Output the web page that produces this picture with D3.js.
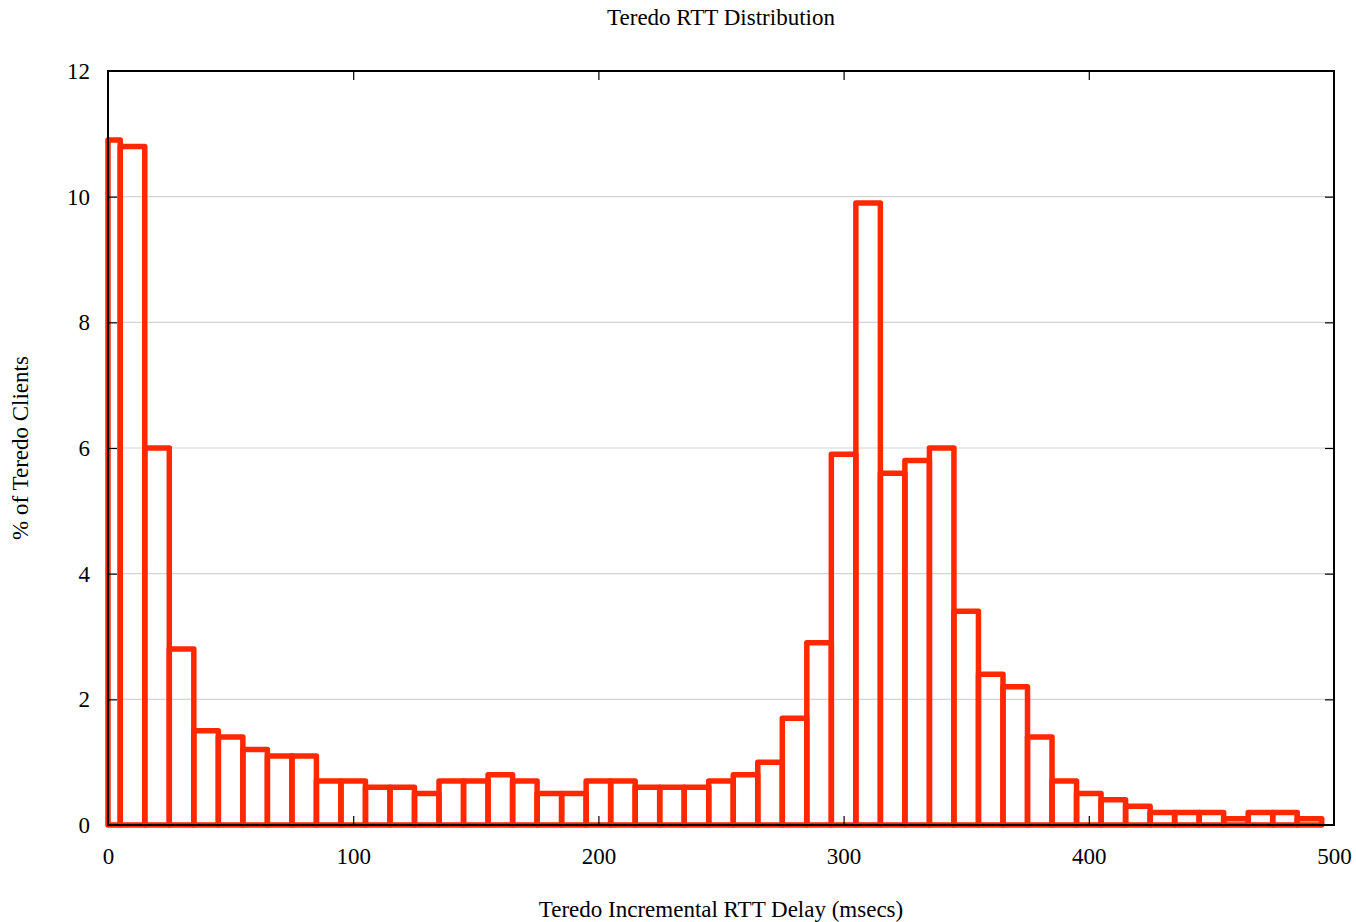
<!DOCTYPE html>
<html>
<head>
<meta charset="utf-8">
<script src="https://cdn.jsdelivr.net/npm/d3@7"></script>
<style>
  body { margin: 0; background: #fff; }
  text { font-family: "Liberation Serif", "DejaVu Serif", serif; fill: #000; }
</style>
</head>
<body>
<svg id="chart"></svg>
<script>
// bin centres (msecs), 10 ms wide
const bins = d3.range(0, 500, 10);
// % of Teredo clients per bin
const pct = [10.9, 10.8, 6.0, 2.8, 1.5, 1.4, 1.2, 1.1, 1.1, 0.7,
             0.7, 0.6, 0.6, 0.5, 0.7, 0.7, 0.8, 0.7, 0.5, 0.5,
             0.7, 0.7, 0.6, 0.6, 0.6, 0.7, 0.8, 1.0, 1.7, 2.9,
             5.9, 9.9, 5.6, 5.8, 6.0, 3.4, 2.4, 2.2, 1.4, 0.7,
             0.5, 0.4, 0.3, 0.2, 0.2, 0.2, 0.1, 0.2, 0.2, 0.1];
const xTicks = [0, 100, 200, 300, 400, 500];
const yTicks = [0, 2, 4, 6, 8, 10, 12];
const binWidth = 10;

var w = 1356, h = 922;
var margin = {left: 108, right: 22, top: 71, bottom: 97};
var svg = d3.select("#chart").attr("width", w).attr("height", h);

var x = d3.scaleLinear().domain([0, 500]).range([margin.left, w - margin.right]);
var y = d3.scaleLinear().domain([0, 12]).range([h - margin.bottom, margin.top]);

// grid lines
svg.append("g")
    .selectAll("line")
    .data(yTicks.filter(d => d > 0 && d < 12))
    .enter()
    .append("line")
    .attr("x1", x(0)).attr("x2", x(500))
    .attr("y1", d => y(d)).attr("y2", d => y(d))
    .style("stroke", "#d4d4d4")
    .style("stroke-width", 1.2);

// bars (outlined boxes), first box clipped at 0
svg.append("g")
    .selectAll("rect")
    .data(bins.map((b, i) => ({b: b, v: pct[i]})))
    .enter()
    .append("rect")
    .attr("x", d => x(Math.max(0, d.b - binWidth / 2)))
    .attr("width", d => x(d.b + binWidth / 2) - x(Math.max(0, d.b - binWidth / 2)))
    .attr("y", d => y(d.v))
    .attr("height", d => y(0) - y(d.v))
    .style("fill", "none")
    .style("stroke", "#ff2800")
    .style("stroke-width", 5.5)
    .style("stroke-linejoin", "round");

// axes with inward ticks
var axBottom = svg.append("g").attr("transform", "translate(0," + y(0) + ")")
    .call(d3.axisBottom(x).tickValues(xTicks).tickSizeInner(-9).tickSizeOuter(0).tickPadding(23));
var axTop = svg.append("g").attr("transform", "translate(0," + y(12) + ")")
    .call(d3.axisTop(x).tickValues(xTicks).tickSizeInner(-9).tickSizeOuter(0).tickFormat(""));
var axLeft = svg.append("g").attr("transform", "translate(" + x(0) + ",0)")
    .call(d3.axisLeft(y).tickValues(yTicks).tickSizeInner(-9).tickSizeOuter(0).tickPadding(18));
var axRight = svg.append("g").attr("transform", "translate(" + x(500) + ",0)")
    .call(d3.axisRight(y).tickValues(yTicks).tickSizeInner(-9).tickSizeOuter(0).tickFormat(""));

[axBottom, axTop, axLeft, axRight].forEach(function (g) {
    g.select(".domain").remove();
    g.selectAll(".tick line").style("stroke", "#000").style("stroke-width", 1.2);
    g.selectAll("text").style("font-size", "23px").style("font-family", "Liberation Serif");
});
axBottom.selectAll(".tick line").filter(d => d === 0 || d === 500).remove();
axTop.selectAll(".tick line").filter(d => d === 0 || d === 500).remove();
axLeft.selectAll(".tick line").filter(d => d === 0 || d === 12).remove();
axRight.selectAll(".tick line").filter(d => d === 0 || d === 12).remove();

// border
svg.append("rect")
    .attr("x", x(0)).attr("y", y(12))
    .attr("width", x(500) - x(0)).attr("height", y(0) - y(12))
    .style("fill", "none").style("stroke", "#000").style("stroke-width", 2);

svg.append("text")
    .attr("x", 721).attr("y", 25)
    .attr("text-anchor", "middle")
    .style("font-size", "23px")
    .text("Teredo RTT Distribution");

svg.append("text")
    .attr("x", 721).attr("y", 917)
    .attr("text-anchor", "middle")
    .style("font-size", "23px")
    .text("Teredo Incremental RTT Delay (msecs)");

svg.append("text")
    .attr("transform", "translate(28," + 448 + ") rotate(-90)")
    .attr("text-anchor", "middle")
    .style("font-size", "23px")
    .text("% of Teredo Clients");
</script>
</body>
</html>
